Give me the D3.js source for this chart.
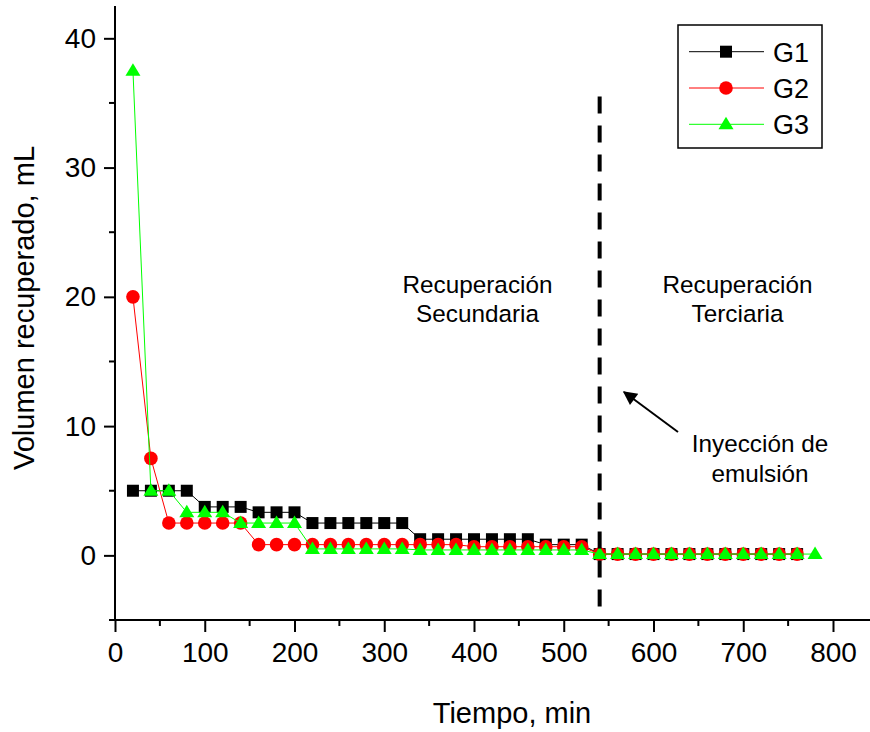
<!DOCTYPE html>
<html>
<head>
<meta charset="utf-8">
<script src="https://cdn.jsdelivr.net/npm/d3@7"></script>
<style>
  html, body { margin: 0; padding: 0; background: #fff; }
  svg { display: block; font-family: Arial, "Liberation Sans", Helvetica, sans-serif; }
</style>
</head>
<body>
<svg id="chart" width="870" height="732"></svg>
<script>
// ---- data ----
const times = [20,40,60,80,100,120,140,160,180,200,220,240,260,280,300,320,340,360,380,400,
               420,440,460,480,500,520,540,560,580,600,620,640,660,680,700,720,740,760,780];
const g1 = [5,5,5,5,3.75,3.75,3.75,3.33,3.33,3.33,2.5,2.5,2.5,2.5,2.5,2.5,1.25,1.25,1.25,1.25,
            1.25,1.25,1.25,0.83,0.83,0.83,0.1,0.1,0.1,0.1,0.1,0.1,0.1,0.1,0.1,0.1,0.1,0.1];
const g2 = [20,7.5,2.5,2.5,2.5,2.5,2.5,0.83,0.83,0.83,0.83,0.83,0.83,0.83,0.83,0.83,0.83,0.83,0.83,0.67,
            0.67,0.67,0.67,0.67,0.67,0.67,0.1,0.1,0.1,0.1,0.1,0.1,0.1,0.1,0.1,0.1,0.1,0.1];
const g3 = [37.5,5,5,3.33,3.33,3.33,2.5,2.5,2.5,2.5,0.5,0.5,0.5,0.5,0.5,0.5,0.42,0.42,0.42,0.42,
            0.42,0.42,0.42,0.42,0.42,0.42,0.1,0.1,0.1,0.1,0.1,0.1,0.1,0.1,0.1,0.1,0.1,0.1,0.1];
const xTicks = [0,100,200,300,400,500,600,700,800];
const yTicks = [0,10,20,30,40];
const seriesNames = ["G1","G2","G3"];
const injectionTime = 540;

// ---- layout ----
const svg = d3.select("#chart");
const x = d3.scaleLinear().domain([0, 850]).range([115, 115 + 850 * 0.8975]);
const y = d3.scaleLinear().domain([-5, 42.5]).range([620, 6]);

const colors = ["#000000", "#ff0000", "#00ff00"];
const sqPath = "M-6,-6H6V6H-6Z";
const triPath = "M0,-7.5L7.5,5L-7.5,5Z";
const FONT = "Arial, 'Liberation Sans', sans-serif";

function marker(sel, i) {
  if (i === 0) sel.append("path").attr("d", sqPath).attr("fill", colors[0]);
  else if (i === 1) sel.append("circle").attr("r", 6.8).attr("fill", colors[1]);
  else sel.append("path").attr("d", triPath).attr("fill", colors[2]);
}

// ---- series ----
const allSeries = [g1, g2, g3];
allSeries.forEach((vals, i) => {
  const pts = vals.map((v, k) => [times[k], v]);
  const line = d3.line().x(d => x(d[0])).y(d => y(d[1]));
  svg.append("path").datum(pts).attr("d", line)
    .attr("fill", "none").attr("stroke", colors[i]).attr("stroke-width", 1);
  const g = svg.append("g");
  pts.forEach(p => {
    const m = g.append("g").attr("transform", `translate(${x(p[0])},${y(p[1])})`);
    marker(m, i);
  });
});

// ---- vertical dashed line ----
svg.append("line")
  .attr("x1", x(injectionTime)).attr("x2", x(injectionTime))
  .attr("y1", y(35.5)).attr("y2", y(-4.1))
  .attr("stroke", "#000").attr("stroke-width", 4)
  .attr("stroke-dasharray", "17,12");

// ---- axes ----
const xAxis = d3.axisBottom(x).tickValues(xTicks).tickSize(12).tickPadding(10).tickFormat(d3.format("d"));
const gx = svg.append("g").attr("transform", `translate(0,${y(-5)})`).call(xAxis);
gx.select(".domain").remove();
gx.append("line").attr("x1", 109).attr("x2", 870).attr("stroke", "#000").attr("stroke-width", 2);
gx.selectAll(".tick line").attr("stroke-width", 2);
gx.selectAll(".tick text").attr("font-size", 28).attr("fill", "#000").attr("font-family", FONT);
// minor x ticks
const xMinor = xTicks.slice(0, -1).map(t => t + 50);
gx.selectAll(".minor").data(xMinor).enter().append("line")
  .attr("x1", d => x(d)).attr("x2", d => x(d)).attr("y1", 0).attr("y2", 6)
  .attr("stroke", "#000").attr("stroke-width", 2);

const yAxis = d3.axisLeft(y).tickValues(yTicks).tickSize(11).tickPadding(8).tickFormat(d3.format("d"));
const gy = svg.append("g").attr("transform", `translate(${x(0)},0)`).call(yAxis);
gy.select(".domain").remove();
gy.append("line").attr("y1", y(42.5)).attr("y2", y(-5)).attr("stroke", "#000").attr("stroke-width", 2);
gy.selectAll(".tick line").attr("stroke-width", 2);
gy.selectAll(".tick text").attr("font-size", 28).attr("fill", "#000").attr("font-family", FONT);
const yMinor = [-5, 5, 15, 25, 35];
gy.selectAll(".minor").data(yMinor).enter().append("line")
  .attr("x1", -6).attr("x2", 0).attr("y1", d => y(d)).attr("y2", d => y(d))
  .attr("stroke", "#000").attr("stroke-width", 2);

// ---- axis titles ----
svg.append("text").attr("x", 512).attr("y", 723).attr("text-anchor", "middle")
  .attr("font-size", 29).text("Tiempo, min");
svg.append("text").attr("transform", "translate(34,308) rotate(-90)").attr("text-anchor", "middle")
  .attr("font-size", 29).text("Volumen recuperado, mL");

// ---- annotations ----
function multiline(cx, y0, lines, lh) {
  const t = svg.append("text").attr("text-anchor", "middle").attr("font-size", 24.3);
  lines.forEach((s, k) => t.append("tspan").attr("x", cx).attr("y", y0 + k * lh).text(s));
}
multiline(477.5, 293, ["Recuperación", "Secundaria"], 28.5);
multiline(737.5, 293, ["Recuperación", "Terciaria"], 28.5);
multiline(760, 452, ["Inyección de", "emulsión"], 29.5);

// arrow
svg.append("defs").append("marker").attr("id", "ah")
  .attr("viewBox", "0 0 10 10").attr("refX", 9).attr("refY", 5)
  .attr("markerWidth", 8).attr("markerHeight", 7).attr("markerUnits", "strokeWidth")
  .attr("orient", "auto")
  .append("path").attr("d", "M0,0L10,5L0,10Z").attr("fill", "#000");
svg.append("line").attr("x1", 678).attr("y1", 432).attr("x2", 624).attr("y2", 392)
  .attr("stroke", "#000").attr("stroke-width", 2).attr("marker-end", "url(#ah)");

// ---- legend ----
const lg = svg.append("g");
lg.append("rect").attr("x", 678).attr("y", 25).attr("width", 144).attr("height", 123)
  .attr("fill", "#fff").attr("stroke", "#000").attr("stroke-width", 1.5);
seriesNames.forEach((name, i) => {
  const ly = 51.7 + i * 36.3;
  lg.append("line").attr("x1", 689).attr("x2", 764).attr("y1", ly).attr("y2", ly)
    .attr("stroke", colors[i]).attr("stroke-width", 1);
  const m = lg.append("g").attr("transform", `translate(726,${ly})`);
  marker(m, i);
  lg.append("text").attr("x", 773).attr("y", ly + 9.8).attr("font-size", 27).text(name);
});
</script>
</body>
</html>
